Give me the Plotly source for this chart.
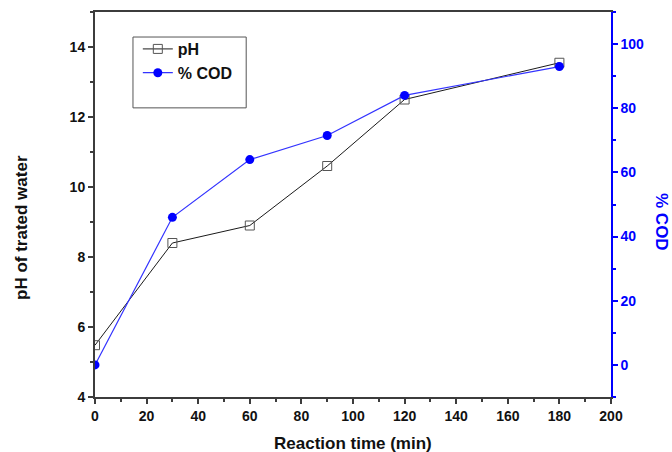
import plotly.graph_objects as go

time_min = [0, 30, 60, 90, 120, 180]
ph_values = [5.48, 8.4, 8.9, 10.6, 12.5, 13.55]
cod_values = [0, 46, 64, 71.5, 84, 93]

AX = "#3c3c3c"
BLUE = "#0000ff"
FONT = "Liberation Sans, Arial, sans-serif"

fig = go.Figure()
fig.add_trace(go.Scatter(
    x=time_min, y=ph_values, name="pH", mode="lines+markers",
    line=dict(color="#1a1a1a", width=1),
    marker=dict(symbol="square-open", size=9, color="#555555", line=dict(width=1)),
    yaxis="y"))
fig.add_trace(go.Scatter(
    x=time_min, y=cod_values, name="% COD", mode="lines+markers",
    line=dict(color="#3333ff", width=1.2),
    marker=dict(symbol="circle", size=9, color=BLUE),
    yaxis="y2"))

tick_font = dict(family=FONT, size=14, color="#111111", weight="bold")
title_font = dict(family=FONT, size=17, color="#111111", weight="bold")

fig.update_layout(
    width=672, height=452,
    margin=dict(l=95, r=61, t=12, b=55, autoexpand=False),
    paper_bgcolor="white", plot_bgcolor="white",
    font=dict(family=FONT),
    showlegend=True,
    legend=dict(x=0.083, y=0.948, xanchor="left", yanchor="top",
                bgcolor="rgba(0,0,0,0)", borderwidth=0,
                font=dict(family=FONT, size=16, color="#111111", weight="bold"),
                itemwidth=30, tracegroupgap=0),
    xaxis=dict(range=[0, 200], dtick=20, tick0=0, showgrid=False, zeroline=False,
               showline=True, linecolor=AX, linewidth=2, mirror=True,
               ticks="outside", ticklen=5, tickwidth=1.5, tickcolor=AX,
               minor=dict(ticks="outside", dtick=10, ticklen=3, tickcolor=AX, tickwidth=1.5),
               tickfont=tick_font, automargin=False),
    yaxis=dict(range=[4, 15], dtick=2, tick0=4, showgrid=False, zeroline=False,
               showline=True, linecolor=AX, linewidth=2,
               ticks="outside", ticklen=5, tickwidth=1.5, tickcolor=AX,
               minor=dict(ticks="outside", dtick=1, ticklen=3, tickcolor=AX, tickwidth=1.5),
               tickfont=tick_font, automargin=False),
    yaxis2=dict(range=[-10, 110], dtick=20, tick0=0, overlaying="y", side="right",
                showgrid=False, zeroline=False,
                showline=True, linecolor=BLUE, linewidth=1.5,
                ticks="outside", ticklen=5, tickwidth=1.5, tickcolor=BLUE,
                minor=dict(ticks="outside", dtick=10, ticklen=3, tickcolor=BLUE, tickwidth=1.5),
                tickfont=dict(family=FONT, size=14, color=BLUE, weight="bold"),
                automargin=False),
    shapes=[dict(type="rect", xref="paper", yref="paper",
                 x0=0.0736, x1=0.293, y0=0.751, y1=0.935,
                 line=dict(color="#555555", width=1), fillcolor="rgba(0,0,0,0)")],
    annotations=[
        dict(text="Reaction time (min)", xref="paper", yref="paper", x=0.5, y=0,
             yshift=-46, showarrow=False, xanchor="center", yanchor="middle",
             font=title_font),
        dict(text="pH of trated water", xref="paper", yref="paper", x=0, y=0.439,
             xshift=-73, textangle=-90, showarrow=False, xanchor="center",
             yanchor="middle", font=title_font),
        dict(text="% COD", xref="paper", yref="paper", x=1.0, y=0.4545,
             xshift=51, textangle=90, showarrow=False,
             xanchor="center", yanchor="middle",
             font=dict(family=FONT, size=17, color=BLUE, weight="bold")),
    ],
)

fig.write_html("out.html")
